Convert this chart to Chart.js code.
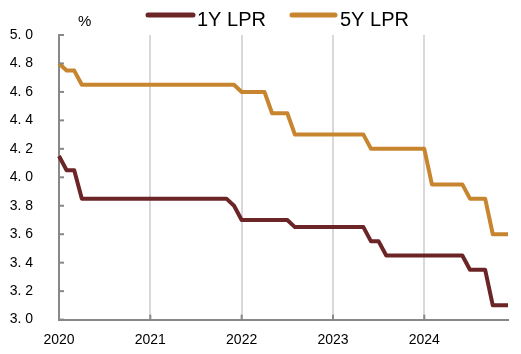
<!DOCTYPE html>
<html>
<head>
<meta charset="utf-8">
<script src="https://cdn.jsdelivr.net/npm/chart.js@4"></script>
<style>
  html, body { margin: 0; padding: 0; background: #fff; }
  #wrap { width: 521px; height: 354px; }
</style>
</head>
<body>
<div id="wrap"><canvas id="lprChart"></canvas></div>
<script>
// tick labels (one per year, on January)
var years = ['2020', '2021', '2022', '2023', '2024'];

// monthly categories 2020-01 .. 2024-12
var months = [];
years.forEach(function (y) {
  for (var m = 1; m <= 12; m++) months.push(y + '-' + (m < 10 ? '0' + m : m));
});

// 1Y LPR, %
var lpr1y = [
  4.15, 4.05, 4.05, 3.85, 3.85, 3.85, 3.85, 3.85, 3.85, 3.85, 3.85, 3.85,
  3.85, 3.85, 3.85, 3.85, 3.85, 3.85, 3.85, 3.85, 3.85, 3.85, 3.85, 3.80,
  3.70, 3.70, 3.70, 3.70, 3.70, 3.70, 3.70, 3.65, 3.65, 3.65, 3.65, 3.65,
  3.65, 3.65, 3.65, 3.65, 3.65, 3.55, 3.55, 3.45, 3.45, 3.45, 3.45, 3.45,
  3.45, 3.45, 3.45, 3.45, 3.45, 3.45, 3.35, 3.35, 3.35, 3.10, 3.10, 3.10
];

// 5Y LPR, %
var lpr5y = [
  4.80, 4.75, 4.75, 4.65, 4.65, 4.65, 4.65, 4.65, 4.65, 4.65, 4.65, 4.65,
  4.65, 4.65, 4.65, 4.65, 4.65, 4.65, 4.65, 4.65, 4.65, 4.65, 4.65, 4.65,
  4.60, 4.60, 4.60, 4.60, 4.45, 4.45, 4.45, 4.30, 4.30, 4.30, 4.30, 4.30,
  4.30, 4.30, 4.30, 4.30, 4.30, 4.20, 4.20, 4.20, 4.20, 4.20, 4.20, 4.20,
  4.20, 3.95, 3.95, 3.95, 3.95, 3.95, 3.85, 3.85, 3.85, 3.60, 3.60, 3.60
];

var color1y = '#6b2526';
var color5y = '#c8852f';
var axisColor = '#888888';
var gridColor = '#d9d9d9';
var fontFam = '"Liberation Sans", Arial, sans-serif';

// inward tick marks, the legend and the "%" unit
var extras = {
  id: 'extras',
  afterDraw: function (chart) {
    var ctx = chart.ctx;
    var xs = chart.scales.x, ys = chart.scales.y;
    ctx.save();
    ctx.strokeStyle = axisColor;
    ctx.lineWidth = 2;
    ys.ticks.forEach(function (t, i) {
      var py = ys.getPixelForTick(i);
      ctx.beginPath();
      ctx.moveTo(xs.left, py);
      ctx.lineTo(xs.left + 5, py);
      ctx.stroke();
    });
    years.forEach(function (y, i) {
      var px = xs.getPixelForValue(i * 12);
      ctx.beginPath();
      ctx.moveTo(px, ys.bottom);
      ctx.lineTo(px, ys.bottom - 5);
      ctx.stroke();
    });

    // legend
    var items = [[148, 193, 197], [292, 335, 340]];
    ctx.lineCap = 'round';
    ctx.lineWidth = 5;
    ctx.font = '20px ' + fontFam;
    ctx.textBaseline = 'alphabetic';
    chart.data.datasets.forEach(function (ds, i) {
      var it = items[i];
      ctx.strokeStyle = ds.borderColor;
      ctx.beginPath();
      ctx.moveTo(it[0], 15);
      ctx.lineTo(it[1], 15);
      ctx.stroke();
      ctx.fillStyle = '#000';
      ctx.fillText(ds.label, it[2], 26);
    });

    ctx.font = '15px ' + fontFam;
    ctx.fillText('%', 78, 26);
    ctx.restore();
  }
};

var config = {
  type: 'line',
  data: {
    labels: months,
    datasets: [{
      label: '1Y LPR',
      data: lpr1y,
      borderColor: color1y,
      backgroundColor: color1y
    }, {
      label: '5Y LPR',
      data: lpr5y,
      borderColor: color5y,
      backgroundColor: color5y
    }]
  },
  options: {
    responsive: true,
    maintainAspectRatio: false,
    animation: false,
    layout: { padding: { top: 35, right: 13, left: 0, bottom: 0 } },
    elements: {
      line: { borderWidth: 4, tension: 0, borderJoinStyle: 'round' },
      point: { radius: 0, hoverRadius: 0 }
    },
    plugins: {
      legend: { display: false },
      tooltip: { enabled: false }
    },
    scales: {
      x: {
        type: 'category',
        afterFit: function (s) { s.height = 30; },
        border: { color: axisColor, width: 2 },
        grid: {
          drawTicks: false,
          lineWidth: 2,
          color: function (c) {
            return c.index % 12 === 0 && c.index > 0 ? gridColor : 'rgba(0,0,0,0)';
          }
        },
        ticks: {
          autoSkip: false,
          maxRotation: 0,
          padding: 12,
          color: '#000',
          font: { family: fontFam, size: 14 },
          callback: function (v, i) { return i % 12 === 0 ? years[i / 12] : ''; }
        }
      },
      y: {
        min: 3,
        max: 5,
        afterFit: function (s) { s.width = 59; },
        border: { color: axisColor, width: 2 },
        grid: { drawTicks: false, color: 'rgba(0,0,0,0)' },
        ticks: {
          stepSize: 0.2,
          padding: 26,
          color: '#000',
          font: { family: fontFam, size: 14 },
          callback: function (v) { return v.toFixed(1).replace('.', '. '); }
        }
      }
    }
  },
  plugins: [extras]
};

var lprChart = new Chart(document.getElementById('lprChart'), config);
</script>
</body>
</html>
